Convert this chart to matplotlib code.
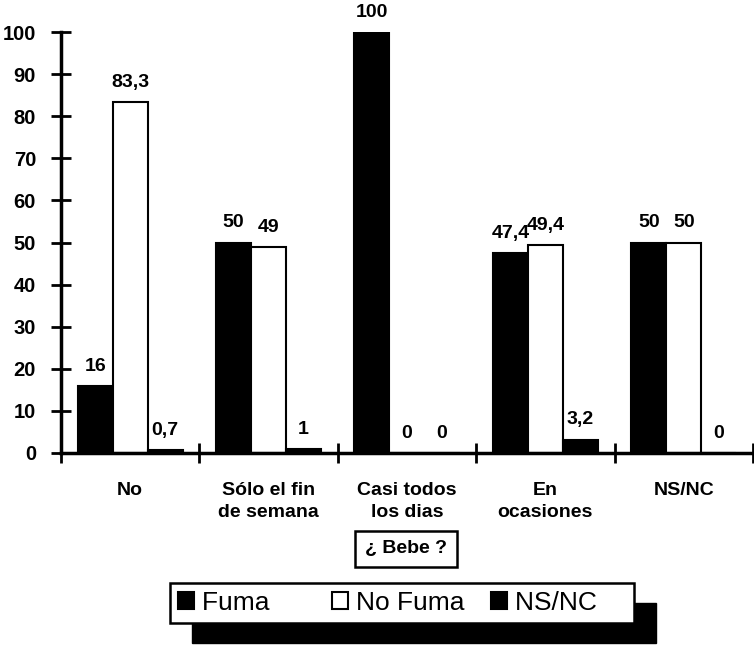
import numpy as np
import matplotlib
matplotlib.use("Agg")
import matplotlib.pyplot as plt
from matplotlib.patches import Rectangle

categories = ["No", "Sólo el fin\nde semana", "Casi todos\nlos dias", "En\nocasiones", "NS/NC"]
series = ["Fuma", "No Fuma", "NS/NC"]
fuma = [16, 50, 100, 47.4, 50]
no_fuma = [83.3, 49, 0, 49.4, 50]
nsnc = [0.7, 1, 0, 3.2, 0]

plt.rcParams['font.family'] = ['Liberation Sans', 'DejaVu Sans']

fig = plt.figure(figsize=(7.54, 6.45), dpi=100)
ax = fig.add_axes([61/754, 1-453/645, (753-61)/754, (453-32)/645])

x = np.arange(len(categories))
w = 0.253
colors = ["black", "white", "black"]
data = [fuma, no_fuma, nsnc]
bars = []
for i in range(3):
    b = ax.bar(x + (i-1)*w, data[i], w, color=colors[i], edgecolor="black",
               linewidth=1.5, label=series[i])
    bars.append(b)
    labels = [("%g" % v).replace(".", ",") for v in data[i]]
    ax.bar_label(b, labels=labels, padding=8, fontsize=14, fontweight="bold")

ax.set_xlim(-0.5, len(categories)-0.5)
ax.set_ylim(0, 100)
ax.set_yticks(np.arange(0, 101, 10))
ax.tick_params(axis="y", direction="inout", length=14, width=2, labelsize=14.5, pad=11)
for t in ax.get_yticklabels():
    t.set_fontweight("bold")

ax.set_xticks(np.arange(-0.5, len(categories), 1))
ax.set_xticklabels([])
ax.tick_params(axis="x", which="major", direction="inout", length=14, width=2)
ax.set_xticks(x, minor=True)
ax.set_xticklabels(categories, minor=True, fontsize=14, fontweight="bold", linespacing=1.35)
ax.tick_params(axis="x", which="minor", length=0, pad=21)

for s in ["top", "right"]:
    ax.spines[s].set_visible(False)
for s in ["left", "bottom"]:
    ax.spines[s].set_linewidth(2.5)

fig.text(406/754, 1-549/645, "¿ Bebe ?", ha="center", va="center", fontsize=14,
         fontweight="bold",
         bbox=dict(boxstyle="square,pad=0.5", facecolor="white", edgecolor="black", linewidth=1.8))

# trailing spaces mimic the uneven column widths of the original legend
leg_labels = ["Fuma     ", "No Fuma", "NS/NC    "]
leg = fig.legend(handles=bars, labels=leg_labels, loc="upper left",
                 bbox_to_anchor=(170/754, 1-583/645), frameon=True,
                 fancybox=False, framealpha=1, fontsize=19, handlelength=0.6,
                 handleheight=0.6, handletextpad=0.3, columnspacing=1.0,
                 borderpad=0.3, borderaxespad=0, ncol=3)
leg.get_frame().set_edgecolor("black")
leg.get_frame().set_linewidth(1.8)
leg.set_zorder(5)

fig.canvas.draw()
bb = leg.get_window_extent().transformed(fig.transFigure.inverted())
dx, dy = 22/754, 20/645
fig.patches.append(Rectangle((bb.x0 + dx, bb.y0 - dy), bb.width, bb.height,
                             transform=fig.transFigure, facecolor="black",
                             edgecolor="black", zorder=1))

fig.savefig("out.png", dpi=100)
